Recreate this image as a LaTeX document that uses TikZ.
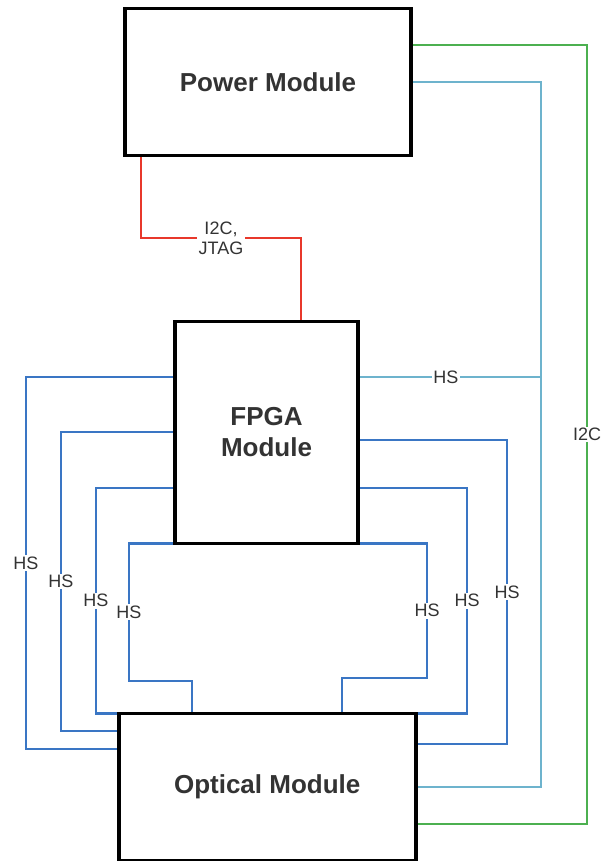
\documentclass[tikz,border=0pt]{standalone}
\usepackage{fontspec}
\setmainfont{Liberation Sans}
\definecolor{txt}{HTML}{333333}
\definecolor{dblue}{HTML}{3A76C4}
\definecolor{lblue}{HTML}{6DB3CD}
\definecolor{gwire}{HTML}{4CB050}
\definecolor{rwire}{HTML}{E8382B}
\pgfdeclarelayer{bg}
\pgfsetlayers{bg,main}
\begin{document}
\begin{tikzpicture}[x=1pt,y=-1pt,
  box/.style={draw=black, line width=3.8pt, fill=white, text=txt,
    font=\fontsize{26}{31}\selectfont\bfseries, align=center, inner sep=0pt, outer sep=0pt},
  wire/.style={line width=2.5pt},
  hswire/.style={wire, draw=dblue},
  lbl/.style={fill=white, text=txt, font=\fontsize{18}{20}\selectfont,
    inner sep=1.5pt, align=center}]
\useasboundingbox (0,0) rectangle (603,861);
\node[box, minimum width=286pt, minimum height=147pt] (power) at (268,82) {Power Module};
\node[box, minimum width=183pt, minimum height=222pt] (fpga) at (266.5,432.5) {FPGA\\Module};
\node[box, minimum width=297pt, minimum height=147pt] (opt) at (267.2,787) {Optical Module};
\begin{pgfonlayer}{bg}
% left HS links
\draw[hswire] (fpga.west |- 0,377) -- (26,377) -- node[lbl]{HS} (26,749) -- (opt.west |- 0,749);
\draw[hswire] (fpga.west |- 0,432) -- (61,432) -- node[lbl]{HS} (61,731) -- (opt.west |- 0,731);
\draw[hswire] (fpga.west |- 0,488) -- (96,488) -- node[lbl]{HS} (opt.north west -| 96,0) -- (opt.north west);
\draw[hswire] (fpga.south west) -- (fpga.south west -| 129,0) -- node[lbl]{HS} (129,681) -- (192,681) -- (opt.north -| 192,0);
% right HS links
\draw[hswire] (fpga.east |- 0,440) -- (507,440) -- node[lbl]{HS} (507,744) -- (opt.east |- 0,744);
\draw[hswire] (fpga.east |- 0,488) -- (467,488) -- node[lbl]{HS} (opt.north east -| 467,0) -- (opt.north east);
\draw[hswire] (fpga.south east) -- (fpga.south east -| 427,0) -- node[lbl]{HS} (427,678) -- (342,678) -- (opt.north -| 342,0);
% light blue bus
\coordinate (lbtop) at (541,82);
\coordinate (lbjoin) at (541,377);
\coordinate (lbbot) at (541,787);
\draw[wire, draw=lblue] (power.east |- lbtop) -- (lbtop) -- (lbbot) -- (opt.east |- lbbot);
\draw[wire, draw=lblue] (fpga.east |- lbjoin) -- node[lbl, pos=0.48]{HS} (lbjoin);
% green I2C
\coordinate (gtop) at (587,45);
\coordinate (gbot) at (587,824);
\draw[wire, draw=gwire] (power.east |- gtop) -- (gtop) -- node[lbl]{I2C} (gbot) -- (opt.east |- gbot);
% red I2C, JTAG
\coordinate (ra) at (141,238);
\coordinate (rb) at (301,238);
\draw[wire, draw=rwire] (power.south -| ra) -- (ra) -- node[lbl]{I2C,\\JTAG} (rb) -- (fpga.north -| rb);
\end{pgfonlayer}
\end{tikzpicture}
\end{document}
